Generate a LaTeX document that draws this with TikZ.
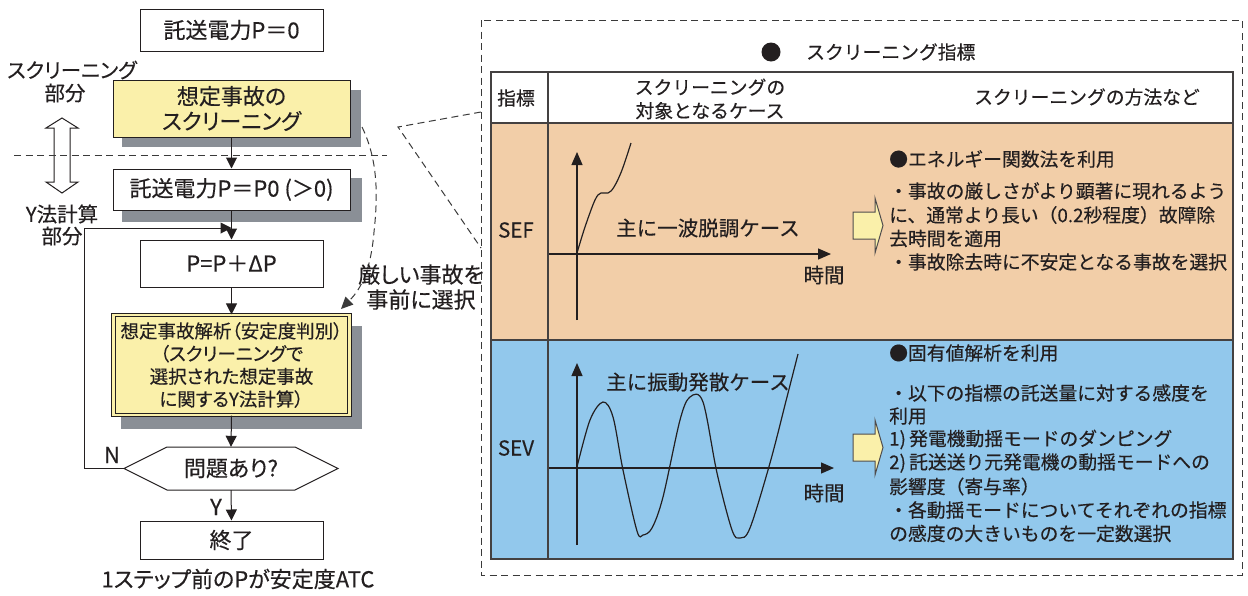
\documentclass[tikz,border=0pt]{standalone}
\usepackage{fontspec}
\setmainfont{Noto Sans CJK JP}[FakeBold=0.35]
\newfontfamily\jpprop{Noto Sans CJK JP}[RawFeature=+palt, FakeBold=0.35]
\usetikzlibrary{arrows.meta}
\definecolor{ink}{HTML}{231F20}
\definecolor{boxyel}{HTML}{FAF0AA}
\definecolor{shadowgray}{HTML}{8A8F96}
\definecolor{sefbg}{HTML}{F2CEA8}
\definecolor{sevbg}{HTML}{92C8EC}
\definecolor{dashgray}{HTML}{3A3A3A}
\newcommand\lfont{\jpprop\fontsize{22}{25}\selectfont}
\newcommand\labfont{\jpprop\fontsize{20.5}{24}\selectfont}
\newcommand\afont{\jpprop\fontsize{18.5}{22.7}\selectfont}
\newcommand\rfont{\fontsize{18.8}{23.5}\selectfont}
\newcommand\gfont{\fontsize{20.5}{24}\selectfont}
\begin{document}
\begin{tikzpicture}[x=1pt,y=-1pt,
  every node/.style={inner sep=0pt, text=ink},
  fbox/.style={draw=ink, line width=1pt, fill=white, font=\lfont, align=center},
  conn/.style={draw=ink, line width=1pt, -{Triangle[length=11pt,width=11pt]}},
  dline/.style={draw=dashgray, line width=1pt, dash pattern=on 7pt off 4.5pt},
  axis/.style={draw=ink, line width=1.2pt, -{Triangle[length=13pt,width=11pt]}},
  wave/.style={draw=ink, line width=1.2pt},
  blockarrow/.style={draw=ink!80, line width=1pt, fill=boxyel},
  tline/.style={draw=ink!85, line width=1.1pt}]
\useasboundingbox (0,0) rectangle (1248,595);

% ---------- left flow chart ----------
\fill[shadowgray] (122,90) rectangle (361,147);
\fill[shadowgray] (122,178) rectangle (362,222);
\fill[shadowgray] (121,326) rectangle (362,429);

\node[fbox, minimum width=183, minimum height=42] (b1) at (231.5,30) {託送電力P＝0};
\node[fbox, fill=boxyel, minimum width=237, minimum height=57] (scr) at (231.5,108.5) {想定事故の\\スクリーニング};
\node[fbox, minimum width=237, minimum height=41] (b2) at (231.5,189.5) {託送電力P＝P0 (＞0)};
\node[fbox, minimum width=183, minimum height=47] (b3) at (231.5,263.5) {P=P＋ΔP};
\node[fbox, fill=boxyel, double=boxyel, double distance=2.5pt, line width=1.1pt, font=\afont,
      minimum width=236, minimum height=100] (ana) at (231.5,365)
      {想定事故解析（安定度判別）\\（スクリーニングで\\選択された想定事故\\に関するY法計算）};
\draw[ink, line width=1pt, fill=white] (124,468.5) -- (167,447) -- (295,447) -- (338,468.5) -- (295,490) -- (167,490) -- cycle;
\node[font=\lfont, minimum width=214, minimum height=43] (hex) at (231,468.5) {問題あり?};
\node[fbox, minimum width=183, minimum height=38] (fin) at (231.5,540) {終了};

\draw[conn] (scr.south) -- (b2.north);
\draw[conn] (b2.south) -- (b3.north);
\draw[conn] (b3.south) -- (ana.north);
\draw[conn] (ana.south) -- (hex.north);
\draw[conn] (hex.south) -- (fin.north);
\coordinate (lc) at (84,228);
\coordinate (lj) at (231.5,228);
\draw[conn] (hex.west) -| (lc) -- (lj);

\node[font=\lfont] (nlab) at (112,455) {N};
\node[font=\lfont] (ylab) at (216,507) {Y};
\node[font=\lfont] (atc) at (238,579) {1ステップ前のPが安定度ATC};

\node[font=\labfont] (scl1) at (72,70) {スクリーニング};
\node[font=\labfont] (scl2) at (65,93) {部分};
\node[font=\labfont] (yl1) at (62,214) {Y法計算};
\node[font=\labfont] (yl2) at (62,236) {部分};

% hollow double arrow
\draw[ink, line width=1pt, fill=white] (62,118) -- (78,128) -- (70,128) -- (70,182) -- (78,182) -- (62,193)
  -- (46,182) -- (54,182) -- (54,128) -- (46,128) -- cycle;
\coordinate (sepL) at (14,155);
\coordinate (sepR) at (387,155);
\draw[dline] (sepL) -- (sepR);

% dashed selection curve
\coordinate (cs) at (362,127);
\coordinate (ce) at (341,309);
\draw[dline, -{Triangle[length=12pt,width=11pt]}] (cs) .. controls (378,160) and (378,195) .. (374,232)
   .. controls (371,268) and (362,288) .. (ce);
\node[font=\lfont, align=center] (sel) at (421,287) {厳しい事故を\\事前に選択};

% ---------- right panel ----------
\coordinate (pnw) at (481,20);
\coordinate (pse) at (1242,575);
\draw[dline] (pnw) rectangle (pse);
\coordinate (ca) at (481,112);
\coordinate (cp) at (398,127);
\coordinate (cb) at (481,248);
\draw[dline] (ca) -- (cp) -- (cb);

\fill[ink] (771,52) circle (9.5);
\node[font=\rfont, anchor=west] (title) at (806,52) {スクリーニング指標};

% table
\fill[white] (491,72) rectangle (1233,123);
\fill[sefbg] (491,123) rectangle (1233,340);
\fill[sevbg] (491,340) rectangle (1233,559);
\draw[tline] (491,72) rectangle (1233,559);
\draw[tline] (491,123) -- (1233,123);
\draw[tline] (491,340) -- (1233,340);
\draw[tline] (548,72) -- (548,559);

\node[font=\rfont] (h1) at (516,98) {指標};
\node[font=\rfont, align=center] (h2) at (710,99) {スクリーニングの\\対象となるケース};
\node[font=\rfont] (h3) at (1087,97) {スクリーニングの方法など};

\node[font=\gfont] (sef) at (516,230) {SEF};
\node[font=\gfont] (sev) at (516,448) {SEV};

% SEF graph
\coordinate (sefy0) at (577,320);
\coordinate (sefy1) at (577,152);
\coordinate (sefx0) at (549,254);
\coordinate (sefx1) at (831,254);
\draw[axis] (sefy0) -- (sefy1);
\draw[axis] (sefx0) -- (sefx1);
\draw[wave] plot[smooth, tension=0.6] coordinates {(577,253) (585,227) (595,200) (601,193) (608,193) (614,187) (622,170) (631,143)};
\node[font=\gfont] (sefc) at (708,228) {主に一波脱調ケース};
\node[font=\gfont] (sefT) at (824,275) {時間};

% SEV graph
\coordinate (sevy0) at (577,545);
\coordinate (sevy1) at (577,363);
\coordinate (sevx0) at (549,468);
\coordinate (sevx1) at (834,468);
\draw[axis] (sevy0) -- (sevy1);
\draw[axis] (sevx0) -- (sevx1);
\draw[wave] plot[smooth, tension=0.55] coordinates {(577,467) (590,420) (603,402) (613,417) (623,470) (637,531) (643,535) (652,528) (663,497) (680,420) (690,397) (703,402) (717,473) (732,530) (740,538) (750,528) (770,463) (787,397) (798,354)};
\node[font=\gfont] (sevc) at (698,382) {主に振動発散ケース};
\node[font=\gfont] (sevT) at (824,493) {時間};

% block arrows
\draw[blockarrow] (853,212) -- (875,212) -- (875,198) -- (883,225.5) -- (875,253) -- (875,239) -- (853,239) -- cycle;
\draw[blockarrow] (853,434) -- (875,434) -- (875,420) -- (883,447.5) -- (875,475) -- (875,461) -- (853,461) -- cycle;

% SEF text
\node[font=\rfont, anchor=west] (sa0) at (889,159) {●エネルギー関数法を利用};
\node[font=\rfont, anchor=west] (sa1) at (889,191) {・事故の厳しさがより顕著に現れるよう};
\node[font=\rfont, anchor=west] (sa2) at (889,215) {に、通常より長い（0.2秒程度）故障除};
\node[font=\rfont, anchor=west] (sa3) at (889,238.5) {去時間を適用};
\node[font=\rfont, anchor=west] (sa4) at (889,262) {・事故除去時に不安定となる事故を選択};

% SEV text
\node[font=\rfont, anchor=west] (sb0) at (889,353) {●固有値解析を利用};
\node[font=\rfont, anchor=west] (sb1) at (889,393) {・以下の指標の託送量に対する感度を};
\node[font=\rfont, anchor=west] (sb2) at (889,416) {利用};
\node[font=\rfont, anchor=west] (sb3) at (889,439.5) {1)\,発電機動揺モードのダンピング};
\node[font=\rfont, anchor=west] (sb4) at (889,463) {2)\,託送送り元発電機の動揺モードへの};
\node[font=\rfont, anchor=west] (sb5) at (889,486.5) {影響度（寄与率）};
\node[font=\rfont, anchor=west] (sb6) at (889,510) {・各動揺モードについてそれぞれの指標};
\node[font=\rfont, anchor=west] (sb7) at (889,533.5) {の感度の大きいものを一定数選択};
\end{tikzpicture}
\end{document}
